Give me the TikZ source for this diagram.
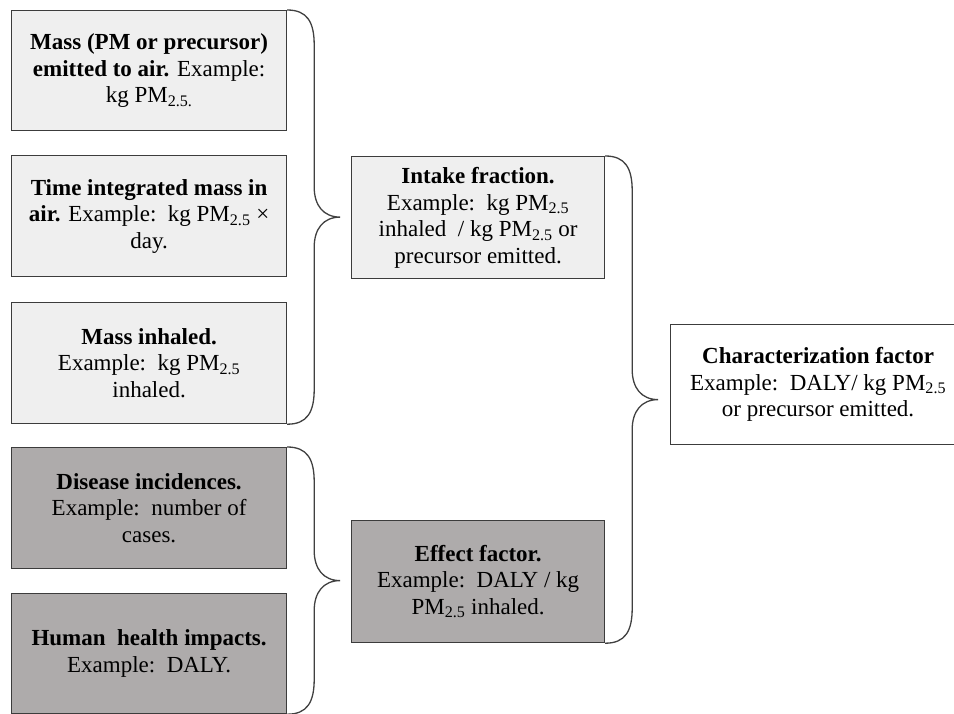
\documentclass[tikz,border=0pt]{standalone}
\usepackage{fontspec}
\setmainfont{Liberation Serif}
\usetikzlibrary{calc}
\definecolor{lightbox}{HTML}{EFEFEF}
\definecolor{darkbox}{HTML}{AEABAB}
\definecolor{edge}{HTML}{3C3C3C}
\definecolor{bracecol}{HTML}{404040}

% curly brace from the top-right corner #1 to the bottom-right corner #2
\newcommand\curlybrace[2]{%
  \draw[braceline] let \p1=(#1), \p2=(#2), \p3=($(#1)!0.5!(#2)$) in
    (\p1) .. controls (\x1+20pt,\y1) and (\x1+27pt,\y1-12pt) .. (\x1+27pt,\y1-35pt)
    -- (\x1+27pt,\y3+30pt) .. controls (\x1+27pt,\y3+12pt) and (\x1+36pt,\y3) .. (\x1+53pt,\y3)
    .. controls (\x1+36pt,\y3) and (\x1+27pt,\y3-12pt) .. (\x1+27pt,\y3-30pt)
    -- (\x1+27pt,\y2+35pt) .. controls (\x1+27pt,\y2+12pt) and (\x1+20pt,\y2) .. (\p2);
}

\begin{document}
\begin{tikzpicture}[x=1pt,y=-1pt,
  card/.style={draw=edge, line width=1.2pt, align=center, anchor=north west,
    inner sep=0pt, font=\fontsize{23}{26.5}\selectfont},
  lbox/.style={card, fill=lightbox, minimum width=275pt, minimum height=120pt},
  dbox/.style={card, fill=darkbox, minimum width=275pt, minimum height=120pt},
  braceline/.style={draw=bracecol, line width=1.3pt}]

\useasboundingbox (0,0) rectangle (954,713);

% left column
\node[lbox] (mass) at (11,10)
  {\textbf{Mass (PM or precursor)}\\\textbf{emitted to air.} Example:\\kg PM\textsubscript{2.5.}};
\node[lbox, minimum height=121pt] (timeint) at (11,155)
  {\textbf{Time integrated mass in}\\\textbf{air.} Example:\ \ kg PM\textsubscript{2.5} ×\\day.};
\node[lbox, minimum height=121pt] (inhaled) at (11,302)
  {\textbf{Mass inhaled.}\\Example:\ \ kg PM\textsubscript{2.5}\\inhaled.};
\node[dbox, minimum height=121pt] (disease) at (11,447)
  {\textbf{Disease incidences.}\\Example:\ \ number of\\cases.};
\node[dbox] (health) at (11,593)
  {\textbf{Human\ \ health impacts.}\\Example:\ \ DALY.};

% middle column
\node[lbox, minimum width=253pt, minimum height=122pt] (intake) at (351,156)
  {\textbf{Intake fraction.}\\Example:\ \ kg PM\textsubscript{2.5}\\inhaled\ \ / kg PM\textsubscript{2.5} or\\precursor emitted.};
\node[dbox, minimum width=253pt, minimum height=122pt] (effect) at (351,520)
  {\textbf{Effect factor.}\\Example:\ \ DALY / kg\\PM\textsubscript{2.5} inhaled.};

% right column (runs past the right edge of the page)
\node[card, fill=white, minimum width=295pt, minimum height=120pt] (charf) at (670,324)
  {\textbf{Characterization factor}\\Example:\ \ DALY/\ kg PM\textsubscript{2.5}\\or precursor emitted.};

% braces grouping the boxes
\curlybrace{mass.north east}{inhaled.south east}
\curlybrace{disease.north east}{health.south east}
\curlybrace{intake.north east}{effect.south east}
\end{tikzpicture}
\end{document}
